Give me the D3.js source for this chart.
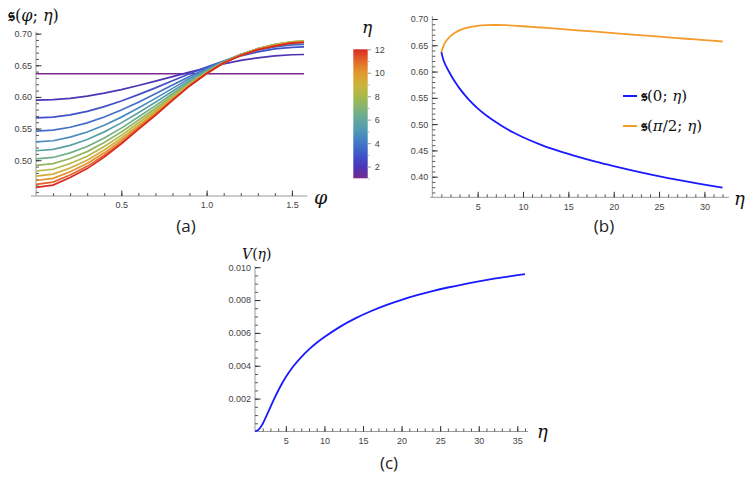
<!DOCTYPE html>
<html>
<head>
<meta charset="utf-8">
<script src="https://cdn.jsdelivr.net/npm/d3@7"></script>
<style>
  body { margin: 0; background: #fff; }
  .tick text { font-family: "Liberation Sans", Arial, sans-serif; font-size: 9px; fill: #444; }
  .math { font-family: "DejaVu Serif", "Liberation Serif", serif; fill: #111; }
  .cap { font-family: "Open Sans", "Noto Sans", sans-serif; font-size: 17px; fill: #222; }
</style>
</head>
<body>
<svg id="chart" width="747" height="488"></svg>
<script>
// ---- panel (a): s(phi; eta) for several eta ----
const phi = [0, 0.1, 0.2, 0.3, 0.4, 0.5, 0.6, 0.7, 0.8, 0.9, 1.0, 1.1, 1.2, 1.3, 1.4, 1.5, 1.5708];
const etaA = [1, 1.92, 2.83, 3.75, 4.67, 5.58, 6.5, 7.42, 8.33, 9.25, 10.17, 11.08, 12];
const sCurves = [
  [0.6366,0.6366,0.6366,0.6366,0.6366,0.6366,0.6366,0.6366,0.6366,0.6366,0.6366,0.6366,0.6366,0.6366,0.6366,0.6366,0.6366],
  [0.595,0.5957,0.5978,0.6013,0.6059,0.6116,0.6180,0.6249,0.6321,0.6392,0.6460,0.6522,0.6576,0.6618,0.6649,0.6666,0.667],
  [0.567,0.5682,0.5717,0.5772,0.5846,0.5935,0.6036,0.6143,0.6255,0.6366,0.6471,0.6566,0.6647,0.6712,0.6758,0.6784,0.679],
  [0.546,0.5475,0.5521,0.5590,0.5683,0.5793,0.5917,0.6049,0.6187,0.6323,0.6449,0.6564,0.6661,0.6737,0.6791,0.6823,0.683],
  [0.529,0.5308,0.5364,0.5445,0.5553,0.5681,0.5826,0.5977,0.6135,0.6291,0.6435,0.6565,0.6672,0.6756,0.6816,0.6852,0.686],
  [0.515,0.5171,0.5235,0.5327,0.5448,0.5590,0.5749,0.5916,0.6089,0.6260,0.6417,0.6557,0.6670,0.6760,0.6823,0.6861,0.687],
  [0.502,0.5044,0.5117,0.5218,0.5352,0.5507,0.5682,0.5862,0.6050,0.6235,0.6403,0.6553,0.6671,0.6765,0.6829,0.6871,0.688],
  [0.492,0.4946,0.5027,0.5136,0.5280,0.5446,0.5632,0.5822,0.6020,0.6215,0.6391,0.6547,0.6667,0.6762,0.6828,0.6870,0.688],
  [0.483,0.4858,0.4948,0.5064,0.5217,0.5393,0.5590,0.5789,0.5997,0.6201,0.6383,0.6544,0.6665,0.6761,0.6826,0.6870,0.688],
  [0.475,0.4781,0.4878,0.5001,0.5163,0.5347,0.5553,0.5760,0.5976,0.6188,0.6375,0.6539,0.6660,0.6756,0.6820,0.6864,0.6875],
  [0.468,0.4713,0.4817,0.4948,0.5117,0.5309,0.5524,0.5738,0.5960,0.6179,0.6370,0.6537,0.6657,0.6752,0.6814,0.6859,0.687],
  [0.462,0.4655,0.4767,0.4903,0.5080,0.5279,0.5501,0.5721,0.5950,0.6174,0.6369,0.6537,0.6655,0.6748,0.6808,0.6854,0.6865],
  [0.457,0.4607,0.4726,0.4868,0.5051,0.5257,0.5486,0.5710,0.5944,0.6173,0.6370,0.6539,0.6654,0.6746,0.6803,0.6849,0.686]
];
const colorbarTicks = [2, 4, 6, 8, 10, 12];

// ---- panel (b): s(0; eta) and s(pi/2; eta) ----
const etaB = [1, 1.25, 1.5, 2, 2.5, 3, 4, 5, 6, 7, 8, 9, 10, 12, 14, 16, 18, 20, 22, 24, 26, 28, 30, 32];
const sZeroB = [0.637, 0.621, 0.611, 0.595, 0.5805, 0.568, 0.547, 0.530, 0.516, 0.504, 0.493, 0.4835, 0.475, 0.4605, 0.4485, 0.438, 0.4285, 0.420, 0.412, 0.4045, 0.3975, 0.391, 0.385, 0.379];
const sHalfPiB = [0.637, 0.6495, 0.6575, 0.6675, 0.674, 0.6785, 0.684, 0.687, 0.6884, 0.6886, 0.6882, 0.6873, 0.6862, 0.6838, 0.6812, 0.6785, 0.6758, 0.6731, 0.6704, 0.6677, 0.6650, 0.6624, 0.6598, 0.6572];

// ---- panel (c): V(eta) ----
const etaC = [1, 1.5, 2, 2.5, 3, 3.5, 4, 4.5, 5, 5.5, 6, 7, 8, 9, 10, 12, 14, 16, 18, 20, 22, 24, 26, 28, 30, 32, 34, 36];
const vC = [0, 0.000125, 0.000475, 0.000963, 0.001488, 0.002, 0.00248, 0.00292, 0.00332, 0.00367, 0.00399, 0.004529, 0.004995, 0.005398, 0.005748, 0.006368, 0.006883, 0.007318, 0.00769, 0.008012, 0.008294, 0.008543, 0.008764, 0.008961, 0.009138, 0.009298, 0.009443, 0.009575];

const svg = d3.select('#chart');
const axisColor = '#9a9a9a';

// minor + major ticks pointing into the plot, Mathematica style
function addTicks(g, scale, orient, major, minor, fmt, pos, pad) {
  const make = orient === 'left' ? d3.axisLeft : d3.axisBottom;
  const gm = g.append('g').attr('transform', pos)
    .call(make(scale).tickValues(minor).tickSize(-3).tickFormat(''));
  gm.select('.domain').remove();
  gm.selectAll('.tick line').attr('stroke', '#555').attr('stroke-width', 1);
  const gM = g.append('g').attr('transform', pos)
    .call(make(scale).tickValues(major).tickSize(-5.5).tickPadding(pad).tickFormat(fmt));
  gM.select('.domain').remove();
  gM.selectAll('.tick line').attr('stroke', '#333').attr('stroke-width', 1);
  return gM;
}
function steps(a, b, step) {
  const out = [];
  for (let v = a; v <= b + step / 1000; v += step) out.push(+v.toFixed(6));
  return out;
}
function mathText(g, x, y, size, parts) {
  const t = g.append('text').attr('class', 'math').attr('x', x).attr('y', y).attr('font-size', size);
  parts.forEach(p => {
    const s = t.append('tspan').text(p[0]).attr('font-style', p[1] === 1 ? 'italic' : 'normal');
    if (p[1] === 2) s.attr('font-weight', 'bold').attr('font-size', size * 1.1);
  });
  return t;
}

// ================= panel (a) =================
const gA = svg.append('g');
const xA = d3.scaleLinear().domain([0, Math.PI / 2]).range([36, 304]);
const yA = d3.scaleLinear().domain([0.4435, 0.7005]).range([196, 33.3]);
const rainbow = d3.scaleLinear()
  .domain([1, 2, 3, 4, 5, 6, 7, 8, 9, 10, 11, 12])
  .range(['#782a8c', '#4a35b8', '#3f55c9', '#4277c7', '#4f97b6', '#62a89a', '#82b473', '#a8b94c', '#cdb23c', '#e2982f', '#e2672a', '#d92a22'])
  .interpolate(d3.interpolateRgb);

gA.append('line').attr('x1', xA(-0.03)).attr('x2', xA(1.59)).attr('y1', yA(0.4435)).attr('y2', yA(0.4435)).attr('stroke', axisColor);
gA.append('line').attr('x1', xA(0)).attr('x2', xA(0)).attr('y1', yA(0.4435)).attr('y2', yA(0.703)).attr('stroke', axisColor);
addTicks(gA, yA, 'left', steps(0.50, 0.70, 0.05), steps(0.45, 0.70, 0.01), d3.format('.2f'), `translate(${xA(0)},0)`, 4);
addTicks(gA, xA, 'bottom', [0.5, 1.0, 1.5], steps(0.1, 1.5, 0.1), d3.format('.1f'), `translate(0,${yA(0.4435)})`, 6);

const lineA = d3.line().x((d, i) => xA(phi[i])).y(d => yA(d));
gA.selectAll('path.curveA').data(sCurves).enter().append('path')
  .attr('class', 'curveA')
  .attr('d', lineA)
  .attr('fill', 'none')
  .attr('stroke', (d, i) => rainbow(etaA[i]))
  .attr('stroke-width', 1.7);

mathText(gA, 8, 21, 16, [['𝔰', 2], ['(', 0], ['φ', 1], [';', 0], [' η', 1], [')', 0]]);
mathText(gA, 314, 204, 19, [['φ', 1]]);
gA.append('text').attr('class', 'cap').attr('x', 186).attr('y', 232).attr('text-anchor', 'middle').text('(a)');

// colorbar
const cbY = d3.scaleLinear().domain([1, 12]).range([178.3, 49.3]);
const defs = svg.append('defs');
const grad = defs.append('linearGradient').attr('id', 'cbgrad').attr('x1', 0).attr('y1', 1).attr('x2', 0).attr('y2', 0);
d3.range(1, 12.01, 0.5).forEach(v => {
  grad.append('stop').attr('offset', (v - 1) / 11).attr('stop-color', rainbow(v));
});
gA.append('rect').attr('x', 353.3).attr('y', cbY(12)).attr('width', 14.4).attr('height', cbY(1) - cbY(12)).attr('fill', 'url(#cbgrad)');
const cbMinor = gA.append('g').attr('transform', 'translate(367.7,0)')
  .call(d3.axisRight(cbY).tickValues(steps(1, 12, 1)).tickSize(2).tickFormat(''));
cbMinor.select('.domain').remove();
cbMinor.selectAll('line').attr('stroke', '#bbb');
const cbAxis = gA.append('g').attr('transform', 'translate(367.7,0)')
  .call(d3.axisRight(cbY).tickValues(colorbarTicks).tickSize(3.5).tickPadding(3.5));
cbAxis.select('.domain').remove();
cbAxis.selectAll('line').attr('stroke', '#aaa');
cbAxis.selectAll('text').attr('font-size', 10).attr('fill', '#777');
mathText(gA, 362, 33, 17, [['η', 1]]);

// ================= panel (b) =================
const gB = svg.append('g');
const xB = d3.scaleLinear().domain([0, 32.7]).range([432.3, 728.9]);
const yB = d3.scaleLinear().domain([0.3608, 0.7057]).range([197.3, 16]);
gB.append('line').attr('x1', xB(-0.25)).attr('x2', xB(32.7)).attr('y1', yB(0.3608)).attr('y2', yB(0.3608)).attr('stroke', axisColor);
gB.append('line').attr('x1', xB(0)).attr('x2', xB(0)).attr('y1', yB(0.3608)).attr('y2', yB(0.7057)).attr('stroke', axisColor);
addTicks(gB, yB, 'left', steps(0.40, 0.70, 0.05), steps(0.37, 0.70, 0.01), d3.format('.2f'), `translate(${xB(0)},0)`, 4);
addTicks(gB, xB, 'bottom', steps(5, 30, 5), steps(1, 32, 1), d3.format('d'), `translate(0,${yB(0.3608)})`, 6);

const lineB = vals => d3.line().curve(d3.curveCatmullRom.alpha(0.5)).x((d, i) => xB(etaB[i])).y(d => yB(d))(vals);
gB.append('path').attr('d', lineB(sHalfPiB)).attr('fill', 'none').attr('stroke', '#f39b2b').attr('stroke-width', 1.8);
gB.append('path').attr('d', lineB(sZeroB)).attr('fill', 'none').attr('stroke', '#1a1aff').attr('stroke-width', 1.8);

// legend
gB.append('line').attr('x1', 623).attr('x2', 637).attr('y1', 96).attr('y2', 96).attr('stroke', '#1a1aff').attr('stroke-width', 2);
gB.append('line').attr('x1', 623).attr('x2', 637).attr('y1', 126).attr('y2', 126).attr('stroke', '#f39b2b').attr('stroke-width', 2);
mathText(gB, 641, 101, 15, [['𝔰', 2], ['(0;', 0], [' η', 1], [')', 0]]);
mathText(gB, 641, 131, 15, [['𝔰', 2], ['(', 0], ['π', 1], ['/2;', 0], [' η', 1], [')', 0]]);
mathText(gB, 734, 205, 18, [['η', 1]]);
gB.append('text').attr('class', 'cap').attr('x', 604).attr('y', 232).attr('text-anchor', 'middle').text('(b)');

// ================= panel (c) =================
const gC = svg.append('g');
const xC = d3.scaleLinear().domain([1, 36.4]).range([255, 528.1]);
const yC = d3.scaleLinear().domain([0, 0.01003]).range([431.5, 266.7]);
gC.append('line').attr('x1', xC(1)).attr('x2', xC(36.4)).attr('y1', yC(0)).attr('y2', yC(0)).attr('stroke', axisColor);
gC.append('line').attr('x1', xC(1)).attr('x2', xC(1)).attr('y1', yC(0)).attr('y2', yC(0.01003)).attr('stroke', axisColor);
addTicks(gC, yC, 'left', steps(0.002, 0.010, 0.002), steps(0.0005, 0.010, 0.0005), d3.format('.3f'), `translate(${xC(1)},0)`, 4);
addTicks(gC, xC, 'bottom', steps(5, 35, 5), steps(2, 36, 1), d3.format('d'), `translate(0,${yC(0)})`, 6);

const lineC = d3.line().curve(d3.curveCatmullRom.alpha(0.5)).x((d, i) => xC(etaC[i])).y(d => yC(d));
gC.append('path').attr('d', lineC(vC)).attr('fill', 'none').attr('stroke', '#1a1aff').attr('stroke-width', 1.8);

mathText(gC, 242, 259, 14, [['V', 1], ['(', 0], ['η', 1], [')', 0]]);
mathText(gC, 537, 438, 18, [['η', 1]]);
gC.append('text').attr('class', 'cap').attr('x', 389).attr('y', 469).attr('text-anchor', 'middle').text('(c)');
</script>
</body>
</html>
